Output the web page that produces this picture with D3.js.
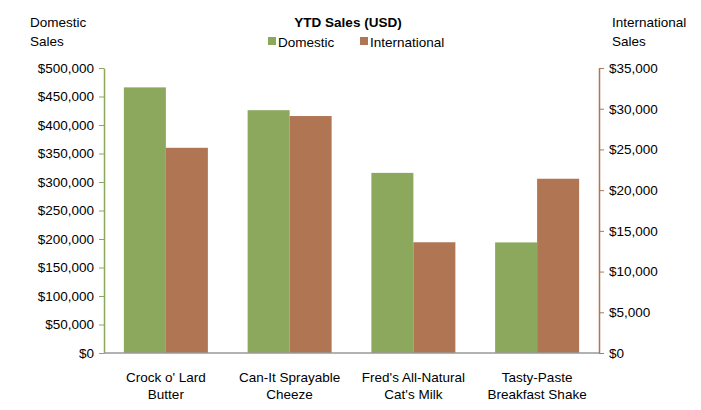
<!DOCTYPE html>
<html><head><meta charset="utf-8">
<script src="https://cdn.jsdelivr.net/npm/d3@7"></script>
<style>body{margin:0;background:#fff}text{font-family:"Liberation Sans",Arial,sans-serif}</style>
</head><body>
<svg id="chart" width="701" height="410"></svg>
<script>
var categories = [["Crock o' Lard", "Butter"], ["Can-It  Sprayable", "Cheeze"], ["Fred's All-Natural", "Cat's Milk"], ["Tasty-Paste", "Breakfast Shake"]];
var domestic = [466000, 426000, 316000, 194000];
var international = [25200, 29100, 13600, 21400];
var leftTicks = [0, 50000, 100000, 150000, 200000, 250000, 300000, 350000, 400000, 450000, 500000];
var rightTicks = [0, 5000, 10000, 15000, 20000, 25000, 30000, 35000];
var green = "#8ba85c", brown = "#b07552";

var svg = d3.select("#chart");
var x0 = 104, x1 = 599, yTop = 68, yBot = 353;
var fmt = d3.format("$,");
var fs = 13.5;

var x = d3.scaleBand().domain(d3.range(4)).range([x0, x1]);
var yL = d3.scaleLinear().domain([0, 500000]).range([yBot, yTop]);
var yR = d3.scaleLinear().domain([0, 35000]).range([yBot, yTop]);
var bw = 42, off = (x.bandwidth() - 2 * bw) / 2;

svg.selectAll(".dom").data(domestic).enter().append("rect")
    .attr("x", function(d, i) { return x(i) + off; })
    .attr("y", function(d) { return yL(d); })
    .attr("width", bw).attr("height", function(d) { return yBot - yL(d); })
    .attr("fill", green);
svg.selectAll(".intl").data(international).enter().append("rect")
    .attr("x", function(d, i) { return x(i) + off + bw; })
    .attr("y", function(d) { return yR(d); })
    .attr("width", bw).attr("height", function(d) { return yBot - yR(d); })
    .attr("fill", brown);

// left axis
var gl = svg.append("g").attr("transform", "translate(" + x0 + ",0)")
    .call(d3.axisLeft(yL).tickValues(leftTicks).tickFormat(fmt).tickSize(5).tickSizeOuter(0));
gl.select(".domain").attr("stroke", green).attr("stroke-width", 1.5);
gl.selectAll(".tick line").attr("stroke", green);
gl.selectAll("text").attr("font-size", fs).attr("fill", "#000").attr("x", -10);

// right axis
var gr = svg.append("g").attr("transform", "translate(" + x1 + ",0)")
    .call(d3.axisRight(yR).tickValues(rightTicks).tickFormat(fmt).tickSize(5).tickSizeOuter(0));
gr.select(".domain").attr("stroke", brown).attr("stroke-width", 1.5);
gr.selectAll(".tick line").attr("stroke", brown);
gr.selectAll("text").attr("font-size", fs).attr("fill", "#000").attr("x", 10);

// bottom line
svg.append("line").attr("x1", x0).attr("x2", x1).attr("y1", yBot).attr("y2", yBot)
    .attr("stroke", "#999").attr("stroke-width", 1.5);

// category labels
categories.forEach(function(c, i) {
    var t = svg.append("text").attr("text-anchor", "middle").attr("font-size", fs);
    c.forEach(function(line, j) {
        t.append("tspan").attr("x", x(i) + x.bandwidth() / 2).attr("y", 382 + j * 17).text(line);
    });
});

// titles
svg.append("text").attr("x", 348).attr("y", 27).attr("text-anchor", "middle")
    .attr("font-size", fs).attr("font-weight", "bold").text("YTD Sales (USD)");
var lt = svg.append("text").attr("font-size", fs);
lt.append("tspan").attr("x", 30).attr("y", 27).text("Domestic");
lt.append("tspan").attr("x", 30).attr("y", 46).text("Sales");
var rt = svg.append("text").attr("font-size", fs);
rt.append("tspan").attr("x", 612).attr("y", 27).text("International");
rt.append("tspan").attr("x", 612).attr("y", 46).text("Sales");

// legend
var legend = [["Domestic", green, 268], ["International", brown, 360]];
legend.forEach(function(l) {
    svg.append("rect").attr("x", l[2]).attr("y", 37).attr("width", 8).attr("height", 8).attr("fill", l[1]);
    svg.append("text").attr("x", l[2] + 10).attr("y", 47).attr("font-size", fs).text(l[0]);
});
</script>
</body></html>
